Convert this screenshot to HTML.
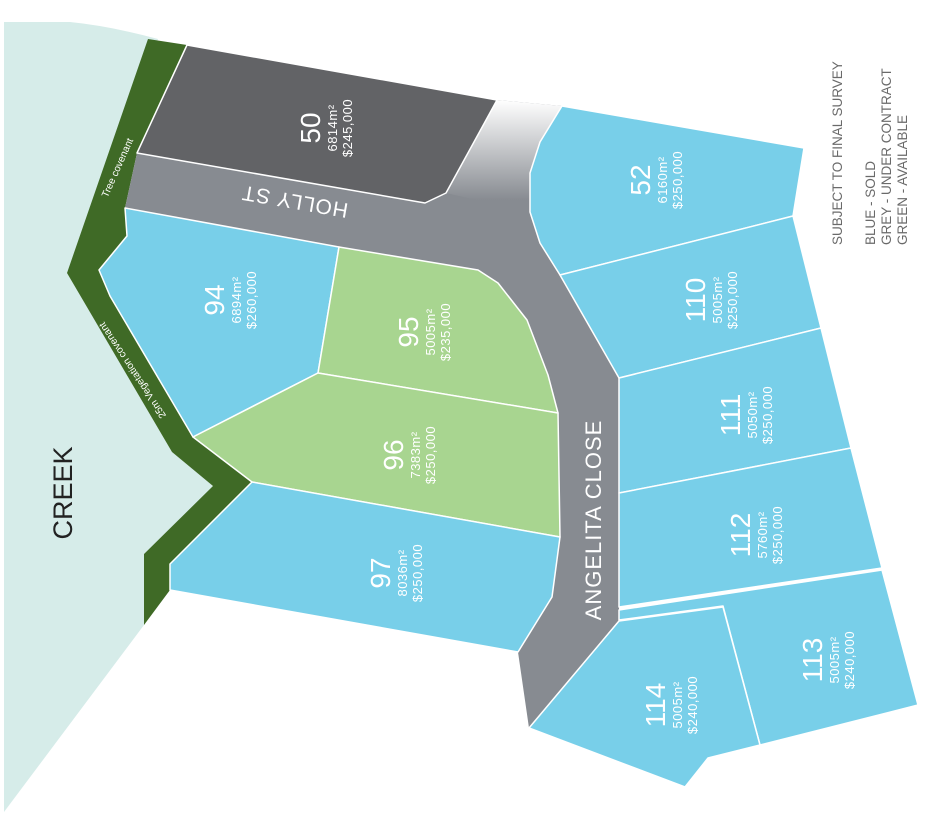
<!DOCTYPE html>
<html><head><meta charset="utf-8"><style>
html,body{margin:0;padding:0;background:#fff;}
svg{display:block;font-family:"Liberation Sans",sans-serif;}
.lot{stroke:#fff;stroke-width:1.5;stroke-linejoin:round;}
.b{fill:#78cfe9;} .g{fill:#a8d590;}
.n{font-size:28px;fill:#fff;text-anchor:middle;}
.s{font-size:13px;fill:#fff;text-anchor:middle;letter-spacing:0.5px;}
</style></head><body>
<svg width="932" height="840" viewBox="0 0 932 840">
<defs>
<linearGradient id="fade" gradientUnits="userSpaceOnUse" x1="0" y1="100" x2="0" y2="200">
<stop offset="0" stop-color="#fff" stop-opacity="1"/>
<stop offset="1" stop-color="#fff" stop-opacity="0"/>
</linearGradient>
</defs>
<path d="M4,22 L70,22 Q110,26 158,39 L67,273 L172,452 L213,486 L144,554 L144,625 L4,812 Z" fill="#d6ece9"/>
<polygon points="148,39 187,45 137,153 125,208 127,236 99,270 110,296 193,437 252,482 170,564 170,590 144,625 144,554 213,486 172,452 67,273" fill="#3f6a26"/>
<polygon points="137,153 425,203 446,193 497,100 562,106 540,142 530,173 530,212 540,243 560,275 619,378 619,620 529,728 518,652 552,597 560,537 558,413 548,375 527,320 498,283 478,270 339,247 125,208" fill="#878b91"/>
<polygon points="497,100 562,106 540,142 530,173 530,212 446,193" fill="url(#fade)"/>
<polygon class="lot" points="187,45 497,100 446,193 425,203 137,153" fill="#626366"/>
<polygon class="lot b" points="125,208 339,247 318,373 193,437 110,296 99,270 127,236"/>
<polygon class="lot g" points="339,247 478,270 498,283 527,320 548,375 558,413 318,373"/>
<polygon class="lot g" points="318,373 558,413 560,537 252,482 193,437"/>
<polygon class="lot b" points="252,482 560,537 552,597 518,652 170,590 170,564"/>
<polygon class="lot b" points="562,106 804,148 793,216 560,275 540,243 530,212 530,173 540,142"/>
<polygon class="lot b" points="560,275 793,216 821,328 619,378"/>
<polygon class="lot b" points="619,378 821,328 851,448 619,493"/>
<polygon class="lot b" points="619,493 851,448 882,568 619,607"/>
<polygon class="lot b" points="619,610 882,570 918,705 760,745 723,606 619,620"/>
<polygon class="lot b" points="619,621 723,607 760,745 708,758 685,787 529,728"/>

<g fill="#fff">
<g transform="translate(320,128) rotate(-90)"><text class="n" x="0" y="0">50</text><text class="s" x="0" y="17">6814m²</text><text class="s" x="0" y="32">$245,000</text></g>
<g transform="translate(650,180) rotate(-90)"><text class="n" x="0" y="0">52</text><text class="s" x="0" y="17">6160m²</text><text class="s" x="0" y="32">$250,000</text></g>
<g transform="translate(224,300) rotate(-90)"><text class="n" x="0" y="0">94</text><text class="s" x="0" y="17">6894m²</text><text class="s" x="0" y="32">$260,000</text></g>
<g transform="translate(418,332) rotate(-90)"><text class="n" x="0" y="0">95</text><text class="s" x="0" y="17">5005m²</text><text class="s" x="0" y="32">$235,000</text></g>
<g transform="translate(403,455) rotate(-90)"><text class="n" x="0" y="0">96</text><text class="s" x="0" y="17">7383m²</text><text class="s" x="0" y="32">$250,000</text></g>
<g transform="translate(390,573) rotate(-90)"><text class="n" x="0" y="0">97</text><text class="s" x="0" y="17">8036m²</text><text class="s" x="0" y="32">$250,000</text></g>
<g transform="translate(705,300) rotate(-90)"><text class="n" x="0" y="0">110</text><text class="s" x="0" y="17">5005m²</text><text class="s" x="0" y="32">$250,000</text></g>
<g transform="translate(740,415) rotate(-90)"><text class="n" x="0" y="0">111</text><text class="s" x="0" y="17">5050m²</text><text class="s" x="0" y="32">$250,000</text></g>
<g transform="translate(750,535) rotate(-90)"><text class="n" x="0" y="0">112</text><text class="s" x="0" y="17">5760m²</text><text class="s" x="0" y="32">$250,000</text></g>
<g transform="translate(822,660) rotate(-90)"><text class="n" x="0" y="0">113</text><text class="s" x="0" y="17">5005m²</text><text class="s" x="0" y="32">$240,000</text></g>
<g transform="translate(665,705) rotate(-90)"><text class="n" x="0" y="0">114</text><text class="s" x="0" y="17">5005m²</text><text class="s" x="0" y="32">$240,000</text></g>
</g>

<text transform="translate(295,200) rotate(189.8)" font-size="21" fill="#fff" text-anchor="middle" dominant-baseline="middle" letter-spacing="1">HOLLY ST</text>
<text transform="translate(601,520) rotate(-90)" font-size="22" fill="#fff" text-anchor="middle" letter-spacing="1">ANGELITA CLOSE</text>
<text transform="translate(72,493) rotate(-90)" font-size="27" fill="#222" text-anchor="middle">CREEK</text>
<text transform="translate(118,168) rotate(-66)" font-size="10" fill="#fff" text-anchor="middle" dominant-baseline="middle">Tree covenant</text>
<text transform="translate(133,370) rotate(-123.5)" font-size="10" fill="#fff" text-anchor="middle" dominant-baseline="middle">25m Vegetation covenant</text>

<g fill="#6a6a6a" font-size="13.5">
<text transform="translate(842,245) rotate(-90)">SUBJECT TO FINAL SURVEY</text>
<text transform="translate(875,245) rotate(-90)">BLUE - SOLD</text>
<text transform="translate(891,245) rotate(-90)">GREY - UNDER CONTRACT</text>
<text transform="translate(907,245) rotate(-90)">GREEN - AVAILABLE</text>
</g>
</svg>
</body></html>
